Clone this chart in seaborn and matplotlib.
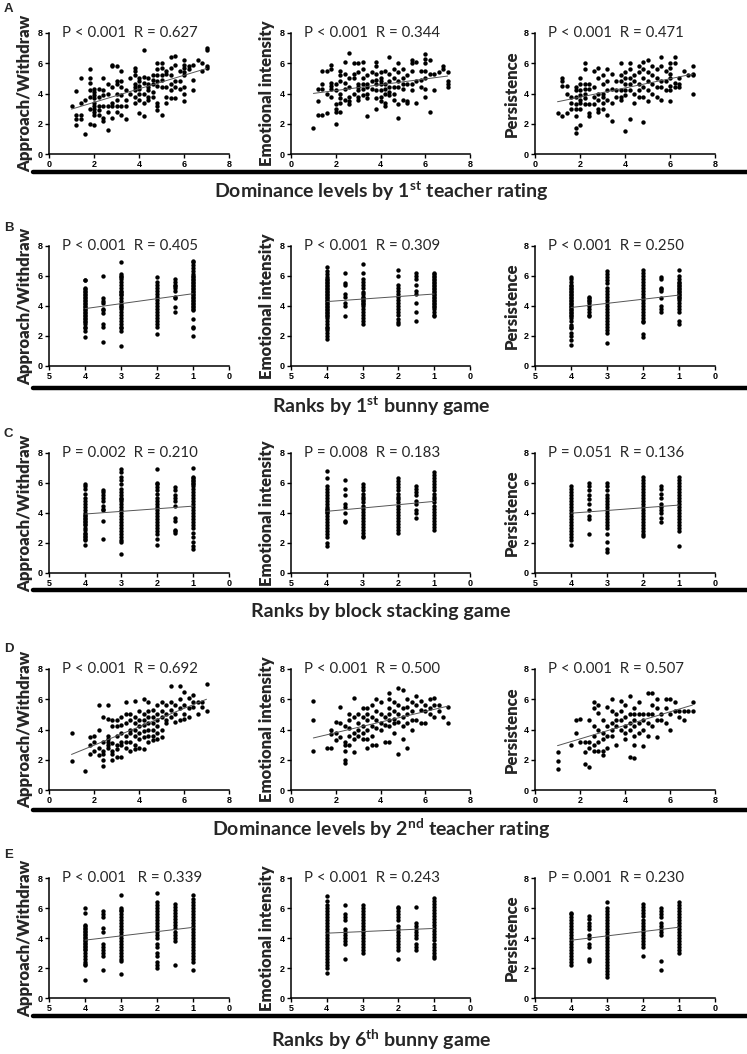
import numpy as np
import matplotlib
matplotlib.use('Agg')
import matplotlib.pyplot as plt
import seaborn as sns
from matplotlib.lines import Line2D

sns.set_style('ticks')
plt.rcParams['font.family'] = ['Lato', 'DejaVu Sans']
plt.rcParams['mathtext.fontset'] = 'custom'
plt.rcParams['mathtext.rm'] = 'Lato'
plt.rcParams['mathtext.bf'] = 'Lato:bold'

# ---- data: x value -> list of y values ----
# Row A: dominance levels by 1st teacher rating
a_aw = {1.0: [3.15], 1.2: [4.15, 2.6, 2.3, 1.9], 1.4: [5.0, 3.4, 2.6, 2.3], 1.6: [3.6, 1.3],
        1.8: [5.6, 5.0, 4.7, 4.25, 3.8, 3.0, 2.0], 2.0: [4.3, 4.1, 3.9, 3.7, 3.4, 3.2, 3.0, 2.8, 2.6, 1.9],
        2.2: [4.3, 3.8, 3.2, 2.9, 2.6], 2.4: [5.0, 4.2, 3.9, 3.2, 2.4, 2.2], 2.6: [4.6, 4.0, 3.2, 2.8, 1.6],
        2.8: [5.9, 5.8, 4.4, 3.4, 3.2, 2.4], 3.0: [5.8, 4.8, 4.6, 4.0, 3.6, 3.2, 2.8],
        3.2: [5.5, 4.8, 4.4, 3.9, 3.2, 2.6], 3.4: [4.2, 3.6, 3.2, 2.3], 3.6: [5.0, 4.0],
        3.8: [5.7, 5.5, 5.2, 4.6, 4.4, 4.2, 3.8, 3.4], 4.0: [5.0, 4.8, 4.5, 4.3, 4.0, 3.6, 2.7],
        4.2: [6.9, 5.1, 4.7, 4.0, 3.4, 2.5], 4.4: [5.0, 4.6, 4.4, 4.2, 3.8, 3.6],
        4.6: [5.2, 4.9, 4.6, 4.1, 3.8], 4.8: [6.0, 5.6, 5.2, 4.8, 4.5, 3.4, 3.2, 2.9],
        5.0: [6.0, 5.7, 5.2, 4.9, 4.4, 2.6], 5.2: [5.5, 5.3, 4.4, 3.8, 3.4],
        5.4: [6.4, 5.7, 5.2, 4.6, 4.2, 3.7], 5.6: [6.5, 5.9, 4.8, 4.4, 3.7], 5.8: [5.5, 4.8, 4.3],
        6.0: [6.2, 5.9, 5.7, 5.4, 5.2, 4.4, 4.0, 3.5], 6.2: [5.8, 5.6], 6.4: [5.9, 4.9, 4.2],
        6.6: [6.2], 6.8: [6.0, 5.5], 7.0: [7.0, 6.9, 5.8, 5.7]}
a_ei = {1.0: [1.75], 1.2: [4.3, 3.5, 2.6], 1.4: [5.5, 4.6, 4.3, 2.6], 1.6: [5.5, 4.0, 2.7],
        1.8: [5.9, 5.6, 4.7, 4.5, 4.3, 3.8], 2.0: [4.6, 4.2, 3.3, 3.0, 2.8, 2.0],
        2.2: [5.5, 5.2, 4.8, 4.0, 3.7, 3.4, 2.8], 2.4: [6.1, 5.3, 4.7, 4.3, 3.6],
        2.6: [6.7, 5.0, 4.4, 3.8, 3.5, 3.3], 2.8: [6.0, 5.3, 5.0, 4.0],
        3.0: [6.0, 5.4, 4.6, 4.4, 4.2, 3.8, 3.6], 3.2: [6.1, 5.6, 5.0, 4.6, 4.3, 3.9],
        3.4: [5.2, 4.6, 4.4, 4.0, 3.7, 2.5], 3.6: [5.4, 4.8, 4.3],
        3.8: [6.1, 5.8, 5.3, 4.9, 4.6, 4.2, 3.7, 3.0], 4.0: [5.4, 5.0, 4.8, 4.6, 4.2, 3.8, 3.5],
        4.2: [5.5, 4.6, 4.3, 4.0, 3.4, 3.2], 4.4: [6.4, 5.3, 4.8, 4.4, 4.1, 3.9],
        4.6: [5.6, 5.0, 4.4, 4.0, 3.6], 4.8: [6.0, 5.4, 4.8, 4.4, 3.3, 2.4],
        5.0: [5.6, 5.0, 4.6, 4.3, 3.6], 5.2: [5.2, 4.6, 3.5, 3.4], 5.4: [6.2, 6.0, 5.5, 4.6, 4.2],
        5.6: [6.1, 4.8, 3.4], 5.8: [5.5, 4.9, 4.4], 6.0: [6.6, 6.3, 6.0, 5.5, 5.0, 4.3, 3.8],
        6.2: [6.2, 5.3, 2.8], 6.4: [5.3, 4.2], 6.6: [5.4], 6.8: [5.8, 5.6], 7.0: [5.4, 4.8, 4.6, 4.4]}
a_pe = {1.0: [2.7], 1.2: [5.0, 4.8, 4.5, 2.5], 1.4: [4.5, 4.0, 2.7], 1.6: [3.8, 3.4, 3.0],
        1.8: [4.4, 4.2, 3.8, 3.3, 3.0, 2.5, 1.7, 1.4], 2.0: [5.0, 4.6, 4.2, 3.9, 3.6, 3.4, 3.0, 1.9],
        2.2: [6.0, 5.6, 4.6, 4.3, 4.0, 3.7, 3.3], 2.4: [4.6, 4.3, 3.3, 2.7, 2.5],
        2.6: [5.5, 4.4, 3.8, 3.3], 2.8: [5.7, 5.0, 4.0, 3.6, 3.0, 2.8],
        3.0: [5.2, 4.6, 4.0, 3.8, 3.4, 3.0], 3.2: [5.6, 4.8, 4.2, 3.6, 2.6], 3.4: [5.3, 4.3, 3.4, 2.2],
        3.6: [4.8, 4.2, 3.8], 3.8: [6.0, 5.2, 4.8, 4.2, 3.8, 3.6], 4.0: [5.4, 5.0, 4.6, 4.2, 3.9, 1.5],
        4.2: [6.0, 5.6, 5.0, 4.6, 4.2, 2.3], 4.4: [5.2, 4.8, 4.0, 3.4], 4.6: [5.8, 5.4, 4.6, 4.2, 3.8],
        4.8: [6.1, 5.6, 5.0, 4.4, 3.8, 2.1], 5.0: [6.2, 5.4, 4.8, 4.2, 3.5], 5.2: [5.8, 5.2, 4.6, 4.0],
        5.4: [5.6, 5.0, 4.4, 3.8], 5.6: [6.4, 5.8, 4.8, 4.4, 3.6], 5.8: [5.5, 4.8, 4.2],
        6.0: [6.0, 5.7, 5.3, 5.0, 4.5, 4.2, 3.5], 6.2: [6.4, 6.0, 4.7, 4.4], 6.4: [5.0, 4.6, 4.4],
        6.6: [5.5], 6.8: [5.2], 7.0: [5.8, 5.3, 5.2, 4.0]}

# Row B: ranks by 1st bunny game
b_aw = {4: [5.75, 5.7, 5.2, 5.1, 5.0, 4.9, 4.8, 4.7, 4.6, 4.5, 4.4, 4.3, 4.2, 4.1, 4.0, 3.9, 3.8, 3.7, 3.6,
            3.5, 3.4, 3.3, 3.2, 3.1, 3.0, 2.9, 2.8, 2.6, 2.5, 2.3, 1.9],
        3.5: [6.0, 4.5, 4.3, 4.2, 3.8, 3.7, 3.5, 2.8, 2.6, 1.6],
        3: [6.9, 6.1, 6.0, 5.9, 5.8, 5.6, 5.4, 5.2, 5.0, 4.9, 4.8, 4.7, 4.5, 4.3, 4.1, 4.0, 3.9, 3.8, 3.6,
            3.4, 3.2, 3.0, 2.8, 2.6, 2.5, 2.3, 1.3],
        2: [5.9, 5.6, 5.4, 5.2, 5.0, 4.8, 4.6, 4.4, 4.2, 4.0, 3.8, 3.6, 3.4, 3.2, 3.0, 2.8, 2.6, 2.1],
        1.5: [5.8, 5.6, 5.4, 5.3, 5.2, 5.0, 4.6, 4.5, 3.9, 3.6],
        1: [7.0, 6.9, 6.7, 6.5, 6.3, 6.1, 6.0, 5.9, 5.8, 5.7, 5.6, 5.5, 5.4, 5.3, 5.2, 5.1, 5.0, 4.9, 4.8,
            4.7, 4.6, 4.5, 4.4, 4.3, 4.2, 4.1, 4.0, 3.9, 3.8, 3.7, 3.1, 2.6, 2.5, 2.0]}
b_ei = {4: [6.6, 6.3, 6.1, 5.9, 5.8, 5.7, 5.6, 5.5, 5.4, 5.3, 5.2, 5.1, 5.0, 4.9, 4.8, 4.7, 4.6, 4.5, 4.4,
            4.3, 4.2, 4.1, 4.0, 3.9, 3.8, 3.7, 3.6, 3.5, 3.4, 3.3, 3.2, 3.0, 2.8, 2.6, 2.5, 2.4, 2.2, 2.0, 1.8],
        3.5: [6.2, 5.5, 5.4, 4.8, 4.6, 4.2, 4.0, 3.3],
        3: [6.8, 6.2, 5.8, 5.6, 5.4, 5.2, 4.9, 4.8, 4.6, 4.5, 4.4, 4.3, 4.2, 4.1, 4.0, 3.8, 3.6, 3.4, 3.2,
            3.0, 2.8],
        2: [6.4, 6.0, 5.4, 5.2, 5.0, 4.8, 4.6, 4.4, 4.2, 4.0, 3.8, 3.6, 3.4, 3.1, 2.9, 2.8],
        1.5: [6.2, 6.0, 5.8, 5.4, 5.0, 4.8, 4.2, 3.6, 3.0],
        1: [6.2, 6.1, 6.0, 5.9, 5.8, 5.7, 5.6, 5.5, 5.4, 5.3, 5.2, 5.1, 5.0, 4.9, 4.8, 4.7, 4.6, 4.5, 4.4,
            4.3, 4.2, 4.1, 4.0, 3.9, 3.8, 3.6, 3.4, 3.3]}
b_pe = {4: [5.9, 5.8, 5.6, 5.4, 5.3, 5.2, 5.1, 5.0, 4.9, 4.8, 4.7, 4.6, 4.5, 4.4, 4.3, 4.2, 4.1, 4.0, 3.9,
            3.8, 3.7, 3.6, 3.5, 3.4, 3.3, 3.2, 3.0, 2.7, 2.6, 2.5, 2.2, 2.0, 1.7, 1.4],
        3.5: [4.6, 4.5, 4.4, 4.3, 4.2, 4.0, 3.8, 3.6, 3.4, 3.3],
        3: [6.3, 6.1, 5.9, 5.7, 5.5, 5.2, 5.0, 4.8, 4.6, 4.4, 4.2, 4.0, 3.8, 3.6, 3.4, 3.2, 3.0, 2.8, 2.6,
            2.4, 2.2, 1.5],
        2: [6.4, 6.2, 6.0, 5.8, 5.6, 5.4, 5.2, 5.0, 4.8, 4.6, 4.4, 4.2, 4.0, 3.8, 3.6, 3.4, 3.2, 3.0, 2.9,
            2.1, 1.9],
        1.5: [5.9, 5.8, 5.2, 5.1, 5.0, 4.5, 4.0, 3.8, 3.6],
        1: [6.4, 6.0, 5.8, 5.6, 5.5, 5.4, 5.3, 5.2, 5.1, 5.0, 4.9, 4.8, 4.7, 4.6, 4.5, 4.4, 4.2, 4.0, 3.8,
            3.6, 3.0, 2.8]}

# Row C: ranks by block stacking game
c_aw = {4: [5.9, 5.8, 5.6, 5.3, 5.0, 4.8, 4.6, 4.4, 4.2, 4.0, 3.9, 3.8, 3.7, 3.6, 3.5, 3.4, 3.3, 3.2, 3.0,
            2.9, 2.7, 2.6, 2.5, 2.4, 2.3, 2.2, 1.9],
        3.5: [5.5, 5.4, 5.2, 5.0, 4.8, 4.5, 4.3, 4.2, 3.5, 2.3],
        3: [6.9, 6.7, 6.4, 6.2, 5.9, 5.6, 5.4, 5.2, 5.0, 4.9, 4.8, 4.6, 4.4, 4.2, 4.0, 3.8, 3.6, 3.4, 3.2,
            3.0, 2.8, 2.6, 2.4, 2.2, 2.1, 1.3],
        2: [6.9, 6.0, 5.9, 5.7, 5.5, 5.3, 5.0, 4.8, 4.6, 4.4, 4.2, 4.0, 3.8, 3.6, 3.4, 3.2, 3.0, 2.8, 2.6,
            2.3, 1.9],
        1.5: [5.7, 5.5, 5.2, 5.0, 4.8, 4.5, 3.7, 3.5, 2.9, 2.8, 2.7],
        1: [7.0, 6.4, 6.3, 6.2, 6.1, 6.0, 5.9, 5.8, 5.6, 5.4, 5.2, 5.0, 4.8, 4.6, 4.4, 4.2, 4.0, 3.8, 3.6,
            3.4, 3.2, 3.0, 2.7, 2.4, 2.1, 1.8, 1.6]}
c_ei = {4: [6.8, 6.3, 5.8, 5.6, 5.4, 5.2, 5.0, 4.8, 4.6, 4.4, 4.3, 4.2, 4.1, 4.0, 3.8, 3.6, 3.4, 3.2, 3.0,
            2.8, 2.6, 2.4, 2.0, 1.8],
        3.5: [6.2, 5.6, 5.2, 4.6, 4.4, 4.0, 3.5, 3.4],
        3: [5.9, 5.7, 5.5, 5.3, 5.1, 4.9, 4.7, 4.5, 4.3, 4.1, 3.9, 3.7, 3.5, 3.3, 3.1, 2.9, 2.7, 2.5, 2.4],
        2: [6.3, 6.1, 5.9, 5.7, 5.5, 5.3, 5.1, 4.9, 4.7, 4.5, 4.3, 4.1, 3.9, 3.7, 3.5, 3.3, 3.1, 2.9, 2.7],
        1.5: [5.8, 5.6, 5.4, 5.2, 4.8, 4.6, 4.2, 4.0, 3.7],
        1: [6.7, 6.5, 6.3, 6.1, 5.9, 5.7, 5.5, 5.3, 5.1, 4.9, 4.7, 4.5, 4.3, 4.1, 3.9, 3.7, 3.5, 3.3, 3.1,
            2.9]}
c_pe = {4: [5.8, 5.6, 5.4, 5.2, 5.0, 4.8, 4.6, 4.4, 4.2, 4.0, 3.8, 3.6, 3.4, 3.2, 3.0, 2.8, 2.6, 2.4, 2.2,
            1.9],
        3.5: [6.0, 5.8, 5.5, 5.2, 4.9, 4.6, 4.2, 3.8, 3.6, 2.6],
        3: [6.0, 5.8, 5.5, 5.2, 5.0, 4.8, 4.6, 4.4, 4.2, 4.0, 3.8, 3.6, 3.4, 3.2, 3.0, 2.6, 2.1, 1.6, 1.4],
        2: [6.4, 6.2, 6.0, 5.8, 5.6, 5.4, 5.2, 5.0, 4.8, 4.6, 4.4, 4.2, 4.0, 3.8, 3.6, 3.4, 3.2, 3.0, 2.8,
            2.6, 2.5],
        1.5: [5.8, 5.6, 5.3, 5.0, 4.6, 4.4, 4.2, 4.0, 3.7, 3.4],
        1: [6.4, 6.2, 6.0, 5.8, 5.6, 5.4, 5.2, 5.0, 4.8, 4.6, 4.4, 4.2, 4.0, 3.8, 3.6, 3.4, 3.2, 3.0, 2.8,
            1.8]}

# Row D: dominance levels by 2nd teacher rating
d_aw = {1.0: [3.75, 1.9], 1.6: [1.25], 1.8: [3.5, 3.0, 2.4], 2.0: [3.6, 3.2, 2.6],
        2.2: [5.6, 4.0, 2.8, 2.3], 2.4: [4.8, 3.2, 2.6, 2.4, 2.0, 1.6],
        2.6: [5.6, 4.7, 3.6, 3.4, 3.2, 3.0, 2.8], 2.8: [4.6, 4.2, 3.1, 2.6, 2.4, 2.0],
        3.0: [4.6, 4.2, 3.6, 3.0, 2.7, 2.2], 3.2: [4.8, 4.3, 3.8, 3.2, 3.0, 2.2],
        3.4: [5.8, 5.0, 4.4, 3.6, 3.2, 2.8], 3.6: [5.0, 4.6, 4.0, 3.8, 3.2, 2.6],
        3.8: [5.9, 4.8, 4.4, 4.0, 3.6, 3.0, 2.7], 4.0: [5.2, 4.6, 4.2, 3.8, 3.4, 2.8],
        4.2: [6.0, 5.0, 4.6, 4.3, 3.9, 3.5, 2.7], 4.4: [5.8, 5.2, 4.8, 4.4, 4.0, 3.6, 3.2],
        4.6: [5.3, 4.8, 4.4, 4.0, 3.6, 3.3], 4.8: [5.6, 5.0, 4.6, 4.2, 3.8, 3.4],
        5.0: [5.8, 5.2, 4.8, 4.0, 3.5], 5.2: [5.6, 5.0, 4.6, 4.4], 5.4: [6.9, 5.8, 5.3, 4.8],
        5.6: [5.6, 5.0, 4.5], 5.8: [6.9, 6.0, 5.4, 4.6], 6.0: [6.5, 5.6, 5.0, 4.7],
        6.2: [6.1, 5.4, 4.8], 6.4: [6.3, 5.8, 5.5], 6.6: [5.8, 5.0], 6.8: [5.8, 5.5], 7.0: [7.0, 5.2]}
d_ei = {1.0: [5.9, 4.6, 2.6], 1.6: [2.75], 1.8: [4.0, 3.7, 2.75], 2.0: [4.5, 3.8, 3.3],
        2.2: [5.5, 4.4, 3.5], 2.4: [4.2, 3.2, 3.0, 2.6, 2.0, 1.8], 2.6: [5.0, 4.6, 4.1, 3.6, 3.0],
        2.8: [6.1, 4.8, 3.8, 3.4, 2.5], 3.0: [5.0, 4.4, 4.0, 3.6], 3.2: [5.4, 4.8, 4.2, 3.8, 3.4],
        3.4: [5.4, 5.0, 4.6, 4.0, 3.4, 2.75], 3.6: [5.6, 4.8, 4.2, 3.6, 3.0],
        3.8: [6.0, 5.2, 4.6, 4.1, 3.0], 4.0: [5.8, 5.0, 4.4, 4.0], 4.2: [4.8, 4.3, 3.2],
        4.4: [6.4, 6.0, 5.4, 5.0, 4.6, 4.2, 3.2], 4.6: [5.8, 5.2, 4.7, 4.4, 3.8],
        4.8: [6.75, 5.6, 5.0, 4.5, 2.4], 5.0: [6.6, 5.4, 4.8, 4.2, 3.4],
        5.2: [6.0, 5.5, 5.0, 4.4, 2.75], 5.4: [5.8, 5.2, 4.6, 4.0], 5.6: [6.2, 5.6, 4.6],
        5.8: [5.9, 5.3, 4.4], 6.0: [5.6, 5.2, 4.4], 6.2: [6.0, 5.4, 5.0], 6.4: [6.1, 5.6, 4.8],
        6.6: [5.6, 5.2], 6.8: [4.8], 7.0: [5.5, 4.4]}
d_pe = {1.0: [2.5, 1.9, 1.4], 1.6: [3.0], 1.8: [4.6, 3.8], 2.0: [4.7, 3.2], 2.2: [3.2, 2.5, 1.75],
        2.4: [4.6, 3.2, 2.8, 1.5], 2.6: [5.8, 5.4, 4.2, 3.6, 3.0, 2.6], 2.8: [5.6, 5.1, 4.0, 3.2, 2.6],
        3.0: [4.6, 3.8, 3.4, 2.6, 2.3], 3.2: [5.5, 4.2, 3.6, 2.8], 3.4: [6.0, 5.2, 4.4, 4.0, 3.6],
        3.6: [5.0, 4.6, 4.2, 3.0], 3.8: [5.9, 5.2, 4.6, 4.0], 4.0: [5.6, 4.8, 4.2, 3.8, 3.4],
        4.2: [6.2, 5.0, 4.4, 4.0, 2.2], 4.4: [5.4, 5.0, 4.6, 4.2, 3.6, 3.0, 2.1],
        4.6: [5.8, 5.0, 4.4, 3.8], 4.8: [5.0, 4.6, 4.0, 2.9], 5.0: [6.4, 5.0, 4.4, 3.6],
        5.2: [6.4, 5.6, 5.0, 4.2], 5.4: [6.0, 5.4, 4.6, 3.5], 5.6: [5.0, 4.6], 5.8: [6.0, 5.4, 4.4],
        6.0: [6.0, 5.0, 4.0], 6.2: [5.8, 5.2], 6.4: [5.2, 4.8], 6.6: [5.2, 4.6], 6.8: [5.2],
        7.0: [5.8, 5.2]}

# Row E: ranks by 6th bunny game
e_aw = {4: [6.0, 5.7, 4.9, 4.8, 4.7, 4.6, 4.5, 4.4, 4.3, 4.2, 4.1, 4.0, 3.9, 3.8, 3.7, 3.6, 3.5, 3.4, 3.3,
            3.2, 3.0, 2.8, 2.6, 2.4, 2.3, 2.2, 1.2],
        3.5: [5.8, 5.6, 5.4, 4.7, 4.4, 3.6, 3.4, 3.2, 3.0, 2.8, 1.9],
        3: [6.9, 6.0, 5.9, 5.8, 5.6, 5.4, 5.2, 5.0, 4.8, 4.6, 4.4, 4.2, 4.0, 3.8, 3.6, 3.4, 3.2, 3.0, 2.8,
            2.6, 2.5, 1.6],
        2: [7.0, 6.4, 6.2, 6.0, 5.8, 5.6, 5.4, 5.2, 5.0, 4.8, 4.6, 4.4, 4.2, 4.0, 3.6, 3.4, 3.0, 2.8, 2.4,
            2.2, 2.0],
        1.5: [6.3, 6.1, 5.9, 5.7, 5.5, 5.3, 5.1, 4.9, 4.7, 4.4, 4.2, 4.0, 3.8, 2.2],
        1: [6.9, 6.6, 6.4, 6.2, 6.0, 5.8, 5.6, 5.4, 5.2, 5.0, 4.8, 4.6, 4.4, 4.2, 4.0, 3.8, 3.6, 3.4, 3.2,
            3.0, 2.8, 2.6, 2.4, 1.9]}
e_ei = {4: [6.8, 6.5, 6.2, 6.0, 5.8, 5.6, 5.4, 5.2, 5.0, 4.8, 4.6, 4.4, 4.2, 4.0, 3.8, 3.6, 3.4, 3.2, 3.0,
            2.8, 2.6, 2.4, 2.2, 2.0, 1.7],
        3.5: [6.2, 5.6, 5.4, 5.2, 4.6, 4.4, 4.2, 4.0, 3.8, 3.6, 2.6],
        3: [6.2, 6.0, 5.8, 5.6, 5.4, 5.2, 5.0, 4.8, 4.6, 4.4, 4.2, 4.0, 3.8, 3.6, 3.4, 3.2, 3.0],
        2: [6.1, 6.0, 5.8, 5.6, 5.4, 5.2, 4.8, 4.6, 4.4, 4.2, 4.0, 3.8, 3.6, 3.4, 3.2, 2.6],
        1.5: [6.1, 5.0, 4.8, 4.6, 4.4, 4.2, 4.0, 3.6, 3.4, 3.2],
        1: [6.7, 6.5, 6.3, 6.1, 5.9, 5.7, 5.5, 5.3, 5.1, 4.9, 4.7, 4.5, 4.3, 4.1, 3.9, 3.6, 3.4, 3.2, 3.0,
            2.8, 2.7]}
e_pe = {4: [5.7, 5.6, 5.4, 5.2, 5.0, 4.8, 4.6, 4.4, 4.2, 4.0, 3.8, 3.6, 3.4, 3.2, 3.0, 2.8, 2.6, 2.4, 2.2],
        3.5: [5.5, 5.3, 5.0, 4.8, 4.6, 4.2, 4.0, 3.6, 3.4, 2.6, 2.5],
        3: [6.4, 6.0, 5.8, 5.6, 5.4, 5.2, 5.0, 4.8, 4.6, 4.4, 4.2, 4.0, 3.8, 3.6, 3.4, 3.2, 3.0, 2.8, 2.6,
            2.4, 2.2, 2.0, 1.8, 1.6, 1.4],
        2: [6.3, 6.1, 5.9, 5.7, 5.5, 5.2, 5.0, 4.8, 4.6, 4.4, 4.2, 4.0, 3.8, 3.6, 3.4, 2.8],
        1.5: [6.0, 5.8, 5.6, 5.4, 5.0, 4.8, 4.6, 4.4, 4.2, 2.5, 1.9],
        1: [6.4, 6.2, 6.0, 5.8, 5.6, 5.4, 5.2, 5.0, 4.8, 4.6, 4.4, 4.2, 4.0, 3.8, 3.6, 3.4, 3.2, 3.0]}

ylabels = ['Approach/Withdraw', 'Emotional intensity', 'Persistence']
row_letters = ['A', 'B', 'C', 'D', 'E']
row_titles = [r'Dominance levels by 1$^{\mathbf{st}}$ teacher rating',
              r'Ranks by 1$^{\mathbf{st}}$ bunny game',
              'Ranks by block stacking game',
              r'Dominance levels by 2$^{\mathbf{nd}}$ teacher rating',
              r'Ranks by 6$^{\mathbf{th}}$ bunny game']
row_kind = ['level', 'rank', 'rank', 'level', 'rank']
stats = [['P < 0.001  R = 0.627', 'P < 0.001  R = 0.344', 'P < 0.001  R = 0.471'],
         ['P < 0.001  R = 0.405', 'P < 0.001  R = 0.309', 'P < 0.001  R = 0.250'],
         ['P = 0.002  R = 0.210', 'P = 0.008  R = 0.183', 'P = 0.051  R = 0.136'],
         ['P < 0.001  R = 0.692', 'P < 0.001  R = 0.500', 'P < 0.001  R = 0.507'],
         ['P < 0.001   R = 0.339', 'P < 0.001  R = 0.243', 'P = 0.001  R = 0.230']]
panels = [[a_aw, a_ei, a_pe], [b_aw, b_ei, b_pe], [c_aw, c_ei, c_pe],
          [d_aw, d_ei, d_pe], [e_aw, e_ei, e_pe]]

# ---- layout in pixels ----
W, H = 747, 1054
fig = plt.figure(figsize=(W / 100, H / 100), dpi=100)

col_x = [(49, 229), (291, 470), (535, 715)]
row_y = [(33, 154), (246, 366), (453, 573), (669, 790), (878, 998)]
rule_y = [172, 388, 590, 810, 1016]
title_y = [191, 406, 612, 829, 1040]
letter_y = [9, 228, 434, 649, 855]


def px_axes(x0, x1, y0, y1):
    return fig.add_axes([x0 / W, 1 - y1 / H, (x1 - x0) / W, (y1 - y0) / H])


tick_font = dict(family=['Liberation Sans Narrow', 'Liberation Sans', 'DejaVu Sans'],
                 weight='bold', size=6.5)

for r in range(5):
    for c in range(3):
        data = panels[r][c]
        xs = np.concatenate([[k] * len(v) for k, v in data.items()])
        ys = np.concatenate([v for v in data.values()])
        ax = px_axes(col_x[c][0], col_x[c][1], row_y[r][0], row_y[r][1])
        sns.regplot(x=xs, y=ys, ax=ax, ci=None, color='black',
                    scatter_kws=dict(s=10, linewidths=0, alpha=1),
                    line_kws=dict(color='#555555', lw=0.7))
        if row_kind[r] == 'level':
            ax.set_xlim(0, 8)
            ax.set_xticks([0, 2, 4, 6, 8])
        else:
            ax.set_xlim(5, 0)
            ax.set_xticks([5, 4, 3, 2, 1, 0])
        ax.set_ylim(0, 8)
        ax.set_yticks([0, 2, 4, 6, 8])
        sns.despine(ax=ax)
        for sp in ['left', 'bottom']:
            ax.spines[sp].set_linewidth(1.1)
            ax.spines[sp].set_color('black')
        ax.tick_params(length=3, width=1.0, pad=1.5, colors='black')
        for lab in ax.get_xticklabels() + ax.get_yticklabels():
            lab.set_fontproperties(tick_font)
        ax.set_ylabel(ylabels[c], fontsize=12, fontweight='heavy', labelpad=3)
        ax.set_xlabel('')
        ax.text(0.07, 1.0, stats[r][c], transform=ax.transAxes, fontsize=10.8,
                va='center', ha='left')

    fig.add_artist(Line2D([33 / W, 1.0], [1 - rule_y[r] / H] * 2, color='black', lw=3.2))
    fig.text(381 / W, 1 - title_y[r] / H, row_titles[r], ha='center', va='center',
             fontsize=14, fontweight='bold')
    fig.text(4 / W, 1 - letter_y[r] / H, row_letters[r], ha='left', va='center',
             fontsize=9.5, fontweight='bold', family=['Liberation Sans', 'DejaVu Sans'])

fig.savefig('out.png', dpi=100)
